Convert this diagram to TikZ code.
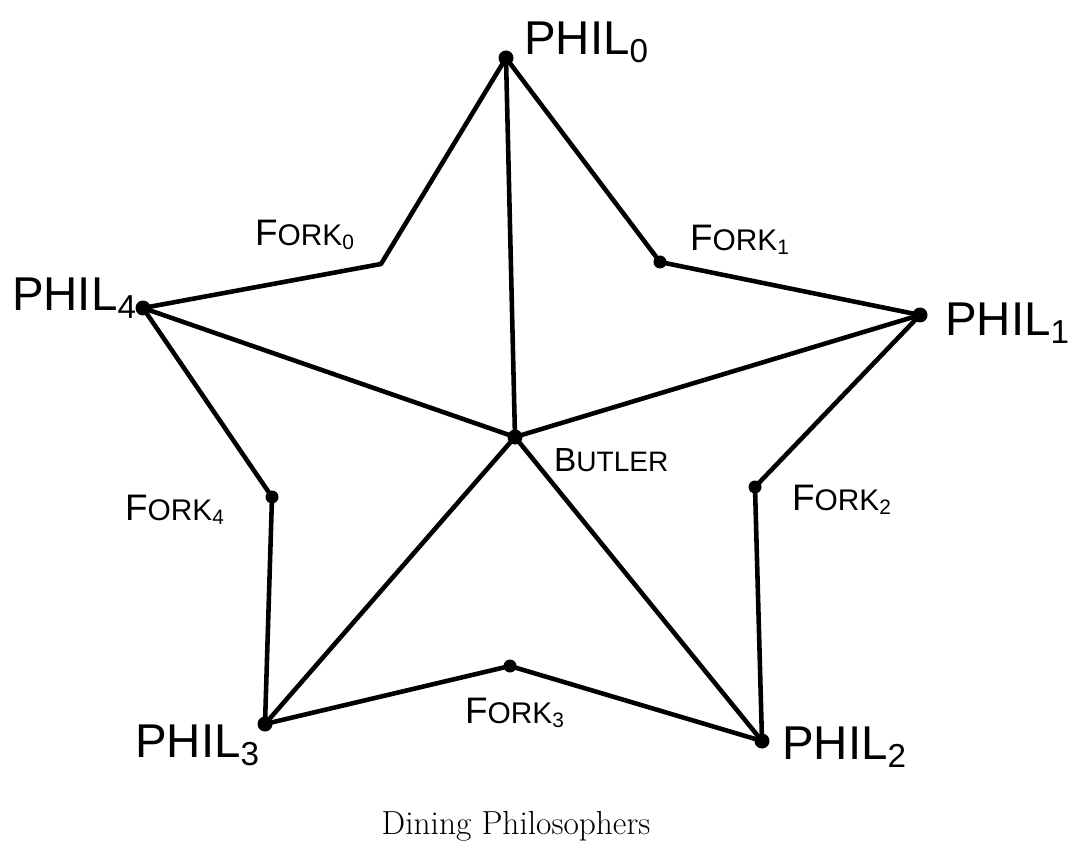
\documentclass[tikz,border=0pt]{standalone}
\usepackage{fontspec}
\newfontfamily\handfont{Liberation Sans}
\usetikzlibrary{positioning}
\tikzset{
phildot/.style={circle, fill=black, inner sep=0pt, minimum size=0.3cm},
forkdot/.style={circle, fill=black, inner sep=0pt, minimum size=0.26cm},
philname/.style={font=\handfont\fontsize{27}{29}\selectfont, inner sep=1pt, anchor=west},
forkname/.style={font=\handfont\fontsize{21}{23}\selectfont, inner sep=1pt},
edge/.style={draw=black, line width=2.6pt, line join=round}
}
\newcommand{\fk}[1]{F{\fontsize{17}{19}\selectfont ORK\textsubscript{#1}}}
\newcommand{\ph}[1]{PHIL\textsubscript{#1}}
\begin{document}
\begin{tikzpicture}[x=0.02cm, y=-0.02cm]
  \useasboundingbox (0,0) rectangle (1087,854);
  % philosophers
  \node[phildot] (p0) at (506,58) {};
  \node[phildot] (p1) at (920,315) {};
  \node[phildot] (p2) at (762,741) {};
  \node[phildot] (p3) at (265,724) {};
  \node[phildot] (p4) at (143,308) {};
  \node[phildot] (butler) at (515,437) {};
  % forks
  \coordinate (f0) at (381,264);
  \node[forkdot] (f1) at (660,262) {};
  \node[forkdot] (f2) at (755,487) {};
  \node[forkdot] (f3) at (510,666) {};
  \node[forkdot] (f4) at (272,497) {};
  % ring
  \draw[edge] (p0.center) -- (f1.center) -- (p1.center) -- (f2.center) -- (p2.center)
    -- (f3.center) -- (p3.center) -- (f4.center) -- (p4.center) -- (f0) -- cycle;
  % butler
  \foreach \p in {p0,p1,p2,p3,p4}
    \draw[edge] (butler.center) -- (\p.center);
  % labels
  \node[philname] (l0) at (522,42) {\ph{0}};
  \node[philname] (l1) at (943,323) {\ph{1}};
  \node[philname] (l2) at (780,747) {\ph{2}};
  \node[philname] (l3) at (133,745) {\ph{3}};
  \node[philname] (l4) at (10,298) {\ph{4}};
  \node[forkname] (k0) at (305,235) {\fk{0}};
  \node[forkname] (k1) at (740,240) {\fk{1}};
  \node[forkname] (k2) at (842,500) {\fk{2}};
  \node[forkname] (k3) at (515,713) {\fk{3}};
  \node[forkname] (k4) at (175,510) {\fk{4}};
  \node[font=\handfont\fontsize{19}{21}\selectfont, anchor=west, inner sep=1pt] (bl) at (552,460) {B{\fontsize{16}{18}\selectfont UTLER}};
  \node[font=\fontsize{19}{21}\selectfont] (cap) at (516,826) {Dining Philosophers};
\end{tikzpicture}
\end{document}
